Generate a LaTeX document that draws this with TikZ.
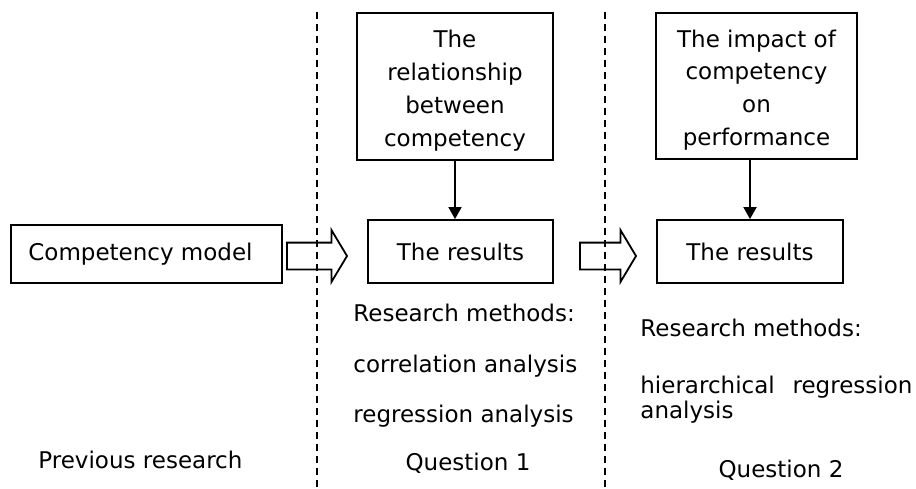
\documentclass[tikz,border=0pt]{standalone}
\usepackage{fontspec}
\setmainfont{DejaVu Sans}
\usetikzlibrary{arrows.meta,shapes.arrows,positioning}

\begin{document}
\begin{tikzpicture} [
    x=0.5pt, y=-0.5pt,
    font=\fontsize{11.5}{16.4}\selectfont,
    box/.style={rectangle, draw=black, line width=0.9pt, inner sep=0pt, align=center},
    txt/.style={anchor=base west, inner sep=0pt},
    blockarrow/.style={single arrow, draw=black, line width=0.9pt, minimum width=0pt,
        inner xsep=0pt, inner ysep=6.25pt,
        single arrow head extend=6.25pt, single arrow tip angle=118},
    divider/.style={line width=0.9pt, dash pattern=on 3.5pt off 2.5pt},
    >={Triangle[width=6.5pt,length=6pt]}
    ]
    \useasboundingbox (0,0) rectangle (916,488);
    %Nodes
    \node[box, minimum width=135.5pt, minimum height=29pt]   (cm)   at (146.5,254)  {Competency model\hspace*{6pt}};
    \node[box, minimum width=98pt, minimum height=73.5pt]    (rel)  at (455,86.5)   {\rule{0pt}{12.7pt}The\\relationship\\between\\competency};
    \node[box, minimum width=92.5pt, minimum height=31.5pt]  (res1) at (460.5,251.5) {The results};
    \node[box, minimum width=100.5pt, minimum height=73pt]   (imp)  at (756.5,86)   {\rule{0pt}{12.7pt}The impact of\\competency\\on\\performance};
    \node[box, minimum width=93pt, minimum height=31.5pt]    (res2) at (750,251.5)  {The results};
    \node[blockarrow, minimum height=30pt]                   (ar1)  at (313,256)    {};
    \node[blockarrow, minimum height=28pt]                   (ar2)  at (604,256)    {};
    \node[txt]       (rm1)      at (353,321)    {Research methods:};
    \node[txt]       (corr)     at (353,372)    {correlation analysis};
    \node[txt]       (regr)     at (353,422)    {regression analysis};
    \node[txt]       (rm2)      at (640,336)    {Research methods:};
    \node[txt, text width=136pt, align=left] (hier) at (640,393) {hierarchical\hfill regression\\[-3.9pt]analysis};
    \node[txt]       (prev)     at (38,468)     {Previous research};
    \node[txt, anchor=base] (q1) at (468,470)   {Question 1};
    \node[txt, anchor=base] (q2) at (781,477)   {Question 2};
    \coordinate (d1top) at (317,12);
    \coordinate (d1bot) at (317,488);
    \coordinate (d2top) at (605,12);
    \coordinate (d2bot) at (605,488);
    %Lines
    \draw[divider] (d1top) -- (d1bot);
    \draw[divider] (d2top) -- (d2bot);
    \draw[->, line width=0.9pt] (rel.south) -- (rel.south |- res1.north);
    \draw[->, line width=0.9pt] (res2.north |- imp.south) -- (res2.north);
\end{tikzpicture}
\end{document}
